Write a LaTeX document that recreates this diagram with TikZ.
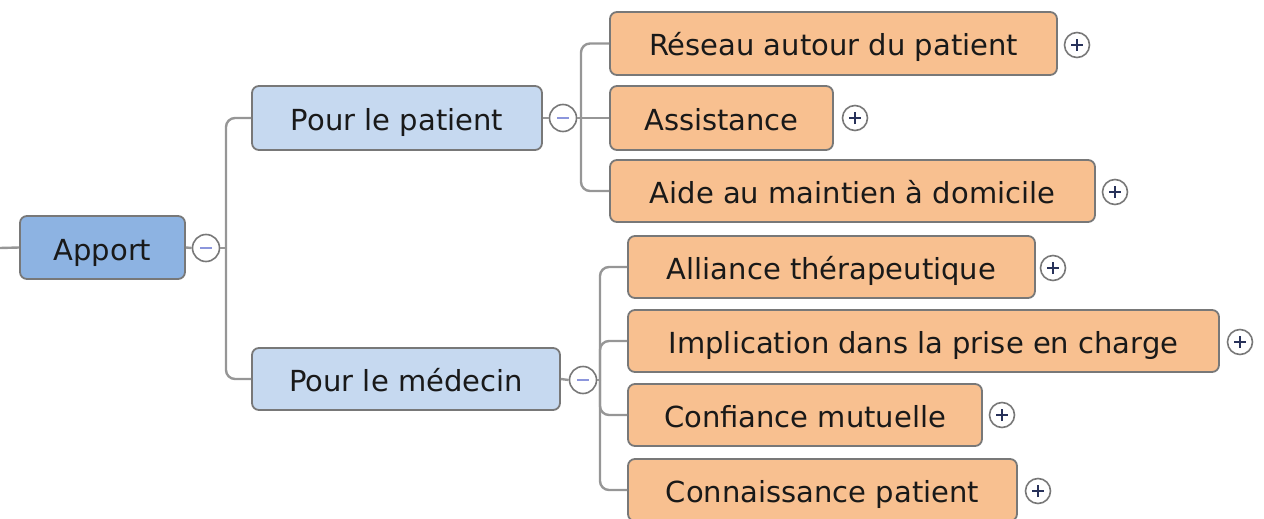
\documentclass[tikz,border=0pt]{standalone}
\usepackage{fontspec}
\setmainfont{DejaVu Sans}
\definecolor{rootblue}{RGB}{141,179,226}
\definecolor{lightblue}{RGB}{198,217,240}
\definecolor{orangefill}{RGB}{248,192,144}
\definecolor{bordergray}{RGB}{120,120,120}
\definecolor{linegray}{RGB}{150,150,150}
\definecolor{navy}{RGB}{40,50,90}
\definecolor{minusblue}{RGB}{140,150,220}
\tikzset{
  x=1pt, y=-1pt,
  mmbox/.style={draw=bordergray, line width=1.8pt, rounded corners=7pt, inner sep=0pt,
    text height=25pt, text depth=0pt,
    font=\fontsize{29}{32}\selectfont, text=black!90},
  rootbox/.style={mmbox, fill=rootblue},
  midbox/.style={mmbox, fill=lightblue},
  leafbox/.style={mmbox, fill=orangefill},
  conn/.style={draw=linegray, line width=2.4pt, rounded corners=9pt},
  minusbtn/.style={circle, draw=bordergray, fill=white, line width=1.6pt, minimum size=27pt, inner sep=0pt,
    path picture={\draw[minusblue, line width=1.5pt] ([xshift=-6pt]path picture bounding box.center) -- ([xshift=6pt]path picture bounding box.center);}},
  plusbtn/.style={circle, draw=bordergray, fill=white, line width=1.6pt, minimum size=25pt, inner sep=0pt,
    path picture={\draw[navy, line width=1.8pt] ([xshift=-6pt]path picture bounding box.center) -- ([xshift=6pt]path picture bounding box.center)
      ([yshift=-6pt]path picture bounding box.center) -- ([yshift=6pt]path picture bounding box.center);}}
}
\begin{document}
\begin{tikzpicture}
\useasboundingbox (0,0) rectangle (1264,519);
% connector coordinates
\coordinate (stub) at (0,248);
\coordinate (j1) at (226,248);
\coordinate (j2) at (581,118);
\coordinate (j3) at (600,380);

% root
\node[rootbox, minimum width=165pt, minimum height=63pt] (apport) at (102.5,247.5) {Apport};
\node[minusbtn] (m1) at (206,248) {};

% middle
\node[midbox, minimum width=290pt, minimum height=64pt] (pp) at (397,118) {Pour le patient};
\node[minusbtn] (m2) at (563,118) {};
\node[midbox, minimum width=308pt, minimum height=62pt] (pm) at (406,379) {Pour le médecin};
\node[minusbtn] (m3) at (583,380) {};

% leaves
\node[leafbox, minimum width=447pt, minimum height=63pt] (c1) at (833.5,43.5) {Réseau autour du patient};
\node[plusbtn] (p1) at (1077,45) {};
\node[leafbox, minimum width=223pt, minimum height=64pt] (c2) at (721.5,118) {Assistance};
\node[plusbtn] (p2) at (855,118) {};
\node[leafbox, minimum width=485pt, minimum height=62pt] (c3) at (852.5,191) {Aide au maintien à domicile};
\node[plusbtn] (p3) at (1115,192) {};

\node[leafbox, minimum width=407pt, minimum height=62pt] (d1) at (831.5,267) {Alliance thérapeutique};
\node[plusbtn] (q1) at (1053,268) {};
\node[leafbox, minimum width=591pt, minimum height=62pt] (d2) at (923.5,341) {Implication dans la prise en charge};
\node[plusbtn] (q2) at (1240,342) {};
\node[leafbox, minimum width=354pt, minimum height=62pt] (d3) at (805,415) {Confiance mutuelle};
\node[plusbtn] (q3) at (1002,415) {};
\node[leafbox, minimum width=389pt, minimum height=62pt] (d4) at (822.5,490) {Connaissance patient};
\node[plusbtn] (q4) at (1038,491) {};

% connectors
\draw[conn] (stub) -- (apport.west);
\draw[conn] (apport.east) -- (m1.west);
\draw[conn] (m1.east) -- (j1);
\draw[conn] (j1) |- (pp.west);
\draw[conn] (j1) |- (pm.west);

\draw[conn] (pp.east) -- (m2.west);
\draw[conn] (m2.east) -- (j2);
\draw[conn] (j2) |- (c1.west);
\draw[conn] (j2) -- (c2.west);
\draw[conn] (j2) |- (c3.west);

\draw[conn] (pm.east) -- (m3.west);
\draw[conn] (m3.east) -- (j3);
\draw[conn] (j3) |- (d1.west);
\draw[conn] (j3) |- (d2.west);
\draw[conn] (j3) |- (d3.west);
\draw[conn] (j3) |- (d4.west);
\end{tikzpicture}
\end{document}
